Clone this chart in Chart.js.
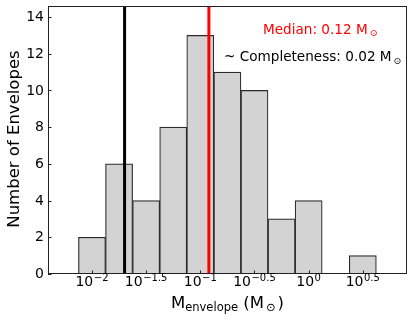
<!DOCTYPE html>
<html>
<head>
<meta charset="utf-8">
<script src="https://cdn.jsdelivr.net/npm/chart.js@4"></script>
<style>
  html, body { margin: 0; padding: 0; background: #fff; }
  #wrap { width: 415px; height: 321px; }
</style>
</head>
<body>
<div id="wrap"><canvas id="hist"></canvas></div>
<script>
// histogram bins, log10(M_envelope / Msun)
const binCenters = [-2.0, -1.75, -1.5, -1.25, -1.0, -0.75, -0.5, -0.25, 0.0, 0.25, 0.5];
const envelopeCounts = [2, 6, 4, 8, 13, 11, 10, 3, 4, 0, 1];

const xTickValues = [-2, -1.5, -1, -0.5, 0, 0.5];
const xTickExponents = ['\u22122', '\u22121.5', '\u22121', '\u22120.5', '0', '0.5'];
const yTickValues = [0, 2, 4, 6, 8, 10, 12, 14];

const medianMass = 0.12;
const completenessMass = 0.02;

const xMin = -2.406, xMax = 0.908;
const yMax = 14.6;
const FONT = '"DejaVu Sans", sans-serif';

// draws text pieces in sequence, sub/superscripts get smaller font and a shift
function measureParts(ctx, parts) {
    let w = 0;
    parts.forEach(p => {
        ctx.font = p.size + 'px ' + FONT;
        w += ctx.measureText(p.text).width + (p.gap || 0);
    });
    return w;
}
function drawParts(ctx, parts, x, y) {
    parts.forEach(p => {
        x += (p.gap || 0);
        ctx.font = p.size + 'px ' + FONT;
        ctx.fillText(p.text, x, y + (p.dy || 0));
        x += ctx.measureText(p.text).width;
    });
}

const framePlugin = {
    id: 'frame',
    afterDraw(chart) {
        const ctx = chart.ctx;
        const area = chart.chartArea;
        const xs = chart.scales.x, ys = chart.scales.y;
        ctx.save();

        // box around plot
        ctx.strokeStyle = '#222';
        ctx.lineWidth = 1;
        ctx.strokeRect(Math.round(area.left) + 0.5, Math.round(area.top) + 0.5,
            Math.round(area.right - area.left) - 1, Math.round(area.bottom - area.top) - 1);

        // inward ticks
        ctx.beginPath();
        xTickValues.forEach(v => {
            const px = Math.round(xs.getPixelForValue(v)) + 0.5;
            ctx.moveTo(px, area.bottom);
            ctx.lineTo(px, area.bottom - 3.5);
        });
        yTickValues.forEach(v => {
            const py = Math.round(ys.getPixelForValue(v)) + 0.5;
            ctx.moveTo(area.left, py);
            ctx.lineTo(area.left + 3.5, py);
        });
        ctx.stroke();

        ctx.fillStyle = '#000';
        // y tick labels
        ctx.font = '14px ' + FONT;
        ctx.textAlign = 'right';
        ctx.textBaseline = 'middle';
        yTickValues.forEach(v => {
            ctx.fillText(String(v), area.left - 4, ys.getPixelForValue(v) + 0.5);
        });

        // x tick labels 10^k
        ctx.textAlign = 'left';
        ctx.textBaseline = 'alphabetic';
        xTickValues.forEach((v, i) => {
            const parts = [{ text: '10', size: 14 }, { text: xTickExponents[i], size: 10, dy: -5.5, gap: 0.5 }];
            const w = measureParts(ctx, parts);
            drawParts(ctx, parts, xs.getPixelForValue(v) - w / 2, 286);
        });

        // x axis label
        const xl = [
            { text: 'M', size: 16.5 },
            { text: 'envelope', size: 11.5, dy: 3.5 },
            { text: ' (M', size: 16.5 },
            { text: '\u2299', size: 11.5, dy: 3.5, gap: 2 },
            { text: ')', size: 16.5, gap: 2 }
        ];
        const xlw = measureParts(ctx, xl);
        drawParts(ctx, xl, (area.left + area.right) / 2 - xlw / 2, 307.5);

        // y axis label
        ctx.save();
        ctx.translate(14.5, 139);
        ctx.rotate(-Math.PI / 2);
        ctx.textAlign = 'center';
        ctx.textBaseline = 'middle';
        ctx.font = '16.5px ' + FONT;
        ctx.fillText('Number of Envelopes', 0, 0);
        ctx.restore();

        // annotations
        ctx.fillStyle = '#ff0000';
        drawParts(ctx, [
            { text: 'Median: 0.12 M', size: 13.6 },
            { text: '\u2299', size: 9.5, dy: 2.5, gap: 2 }
        ], 263, 33.5);
        ctx.fillStyle = '#000';
        drawParts(ctx, [
            { text: '~ Completeness: 0.02 M', size: 13.6 },
            { text: '\u2299', size: 9.5, dy: 2.5, gap: 2 }
        ], 224, 61);

        ctx.restore();
    }
};

const ctx = document.getElementById('hist').getContext('2d');
const chart = new Chart(ctx, {
    data: {
        datasets: [
            {
                type: 'line',
                label: 'median',
                data: [{ x: Math.log10(medianMass), y: 0 }, { x: Math.log10(medianMass), y: yMax }],
                borderColor: '#ff0000',
                borderWidth: 3,
                pointRadius: 0,
                order: 0
            },
            {
                type: 'line',
                label: 'completeness',
                data: [{ x: Math.log10(completenessMass), y: 0 }, { x: Math.log10(completenessMass), y: yMax }],
                borderColor: '#000000',
                borderWidth: 3,
                pointRadius: 0,
                order: 0
            },
            {
                type: 'bar',
                label: 'envelopes',
                data: binCenters.map((c, i) => ({ x: c, y: envelopeCounts[i] })),
                backgroundColor: '#d3d3d3',
                borderColor: '#2b2b2b',
                borderWidth: 1.2,
                borderSkipped: false,
                barPercentage: 1,
                categoryPercentage: 1,
                order: 1
            }
        ]
    },
    options: {
        responsive: true,
        maintainAspectRatio: false,
        animation: false,
        devicePixelRatio: 1,
        layout: { padding: { top: 6, right: 8, left: 0, bottom: 0 } },
        plugins: {
            legend: { display: false },
            tooltip: { enabled: false }
        },
        scales: {
            x: {
                type: 'linear',
                offset: false,
                min: xMin,
                max: xMax,
                afterBuildTicks: scale => { scale.ticks = xTickValues.map(v => ({ value: v })); },
                afterFit: scale => { scale.height = 47; },
                ticks: { display: false },
                grid: { display: false, offset: false },
                border: { display: false }
            },
            y: {
                type: 'linear',
                min: 0,
                max: yMax,
                afterFit: scale => { scale.width = 48; },
                ticks: { display: false },
                grid: { display: false },
                border: { display: false }
            }
        }
    },
    plugins: [framePlugin]
});
</script>
</body>
</html>
